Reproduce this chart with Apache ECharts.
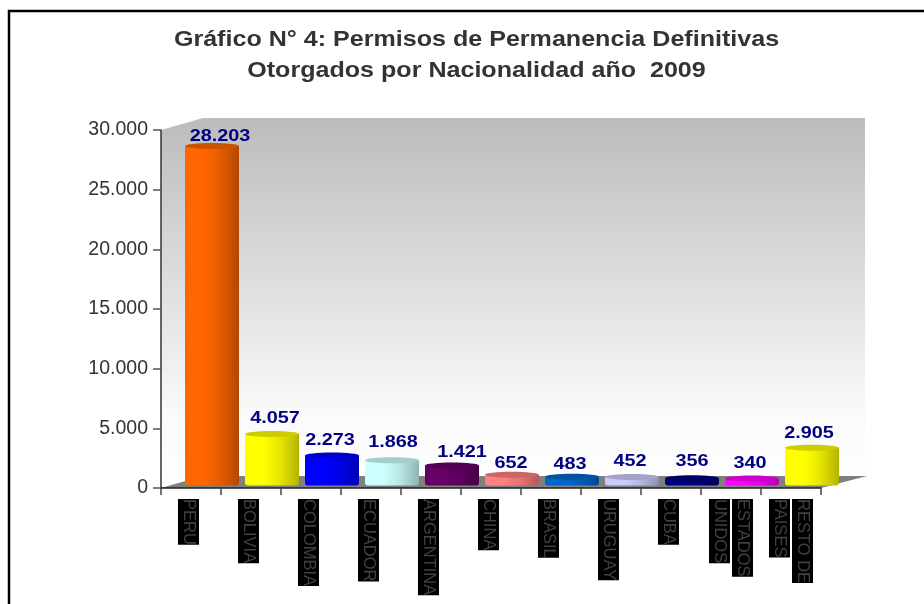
<!DOCTYPE html>
<html>
<head>
    <title>Permisos de Permanencia Definitivas</title>
    <meta charset="UTF-8">
    <script src="https://cdn.jsdelivr.net/npm/echarts@6/dist/echarts.min.js"></script>
    <style>
        html, body { margin: 0; padding: 0; background: #fff; }
        #chart { width: 924px; height: 604px; }
    </style>
</head>
<body>
    <div id="chart"></div>
    <script>
        var titleText = 'Gráfico N° 4: Permisos de Permanencia Definitivas\nOtorgados por Nacionalidad año  2009';
        var categories = ['PERU', 'BOLIVIA', 'COLOMBIA', 'ECUADOR', 'ARGENTINA', 'CHINA', 'BRASIL', 'URUGUAY', 'CUBA', 'ESTADOS\nUNIDOS', 'RESTO DE\nPAISES'];
        var values = [28203, 4057, 2273, 1868, 1421, 652, 483, 452, 356, 340, 2905];
        var valueLabels = ['28.203', '4.057', '2.273', '1.868', '1.421', '652', '483', '452', '356', '340', '2.905'];
        var yTicks = ['0', '5.000', '10.000', '15.000', '20.000', '25.000', '30.000'];
        var barColors = ['#ff6600', '#ffff00', '#0000ff', '#ccffff', '#660066', '#ff8080', '#0066cc', '#ccccff', '#000080', '#ff00ff', '#ffff00'];

        // pseudo 3D depth of the chart box, in px
        var depthX = 42, depthY = 12;
        var font = '"Liberation Sans", Arial, sans-serif';
        // the value labels do not sit quite centred on their bars
        var labelDx = [8, 3, -2, 1, 10, -1, -2, -2, 0, -2, -3];
        var labelDy = [-15, -21, -20, -23, -18, -17, -18, -21, -22, -20, -20];

        function darken(hex, k) {
            var n = parseInt(hex.slice(1), 16);
            var r = Math.round((n >> 16 & 255) * k), g = Math.round((n >> 8 & 255) * k), b = Math.round((n & 255) * k);
            return 'rgb(' + r + ',' + g + ',' + b + ')';
        }

        // back wall and floor
        function renderBox(params, api) {
            var c = params.coordSys;
            var l = c.x, r = c.x + c.width, t = c.y, b = c.y + c.height;
            return {
                type: 'group',
                children: [{
                    type: 'polygon',
                    shape: { points: [[l, t], [l + depthX, t - depthY], [r + 44, t - depthY], [r + 44, b - depthY], [l + depthX, b - depthY], [l, b]] },
                    style: {
                        fill: new echarts.graphic.LinearGradient(0, 0, 0, 1, [
                            { offset: 0, color: '#bcbcbc' }, { offset: 0.5, color: '#e2e2e2' },
                            { offset: 0.8, color: '#fafafa' }, { offset: 1, color: '#ffffff' }
                        ])
                    }
                }, {
                    type: 'polygon',
                    shape: { points: [[l, b], [l + depthX, b - depthY], [r + 46, b - depthY], [r, b]] },
                    style: { fill: '#808080' }
                }]
            };
        }

        // one cylinder per value, with its label
        function renderBar(params, api) {
            var i = api.value(0);
            var top = api.coord([i, api.value(1)]);
            var base = api.coord([i, 0]);
            var w = api.size([1, 0])[0] * 0.9;
            var x = top[0] + 21 - w / 2;
            var topY = top[1] - 5.5, bottomY = base[1] - 2.5;
            var col = barColors[i];
            var front = new echarts.graphic.LinearGradient(0, 0, 1, 0, [
                { offset: 0, color: col }, { offset: 0.35, color: col },
                { offset: 0.65, color: darken(col, 0.9) }, { offset: 1, color: darken(col, 0.7) }
            ]);
            return {
                type: 'group',
                children: [{
                    type: 'rect',
                    shape: { x: x, y: topY, width: w, height: bottomY - topY, r: [0, 0, 3, 3] },
                    style: { fill: front }
                }, {
                    type: 'ellipse',
                    shape: { cx: x + w / 2, cy: topY, rx: w / 2, ry: 3 },
                    style: { fill: darken(col, 0.8) }
                }, {
                    type: 'text',
                    x: x + w / 2 + labelDx[i],
                    y: top[1] + labelDy[i],
                    scaleX: 1.24,
                    style: {
                        text: valueLabels[i],
                        font: 'bold 16px ' + font,
                        fill: '#000080',
                        align: 'center',
                        verticalAlign: 'middle'
                    }
                }]
            };
        }

        var chart = echarts.init(document.getElementById('chart'), null, { renderer: 'canvas' });
        chart.setOption({
            animation: false,
            backgroundColor: '#fff',
            graphic: [{
                type: 'polyline',
                silent: true,
                shape: { points: [[9, 604], [9, 11], [924, 11]] },
                style: { stroke: '#000', lineWidth: 2.5, fill: null }
            }, {
                type: 'text',
                silent: true,
                x: 476.5,
                y: 24,
                scaleX: 1.14,
                style: {
                    text: titleText,
                    font: 'bold 22px ' + font,
                    lineHeight: 31,
                    fill: '#333333',
                    align: 'center',
                    verticalAlign: 'top'
                }
            }],
            grid: { left: 161, top: 130, width: 660, height: 358 },
            xAxis: {
                type: 'category',
                data: categories,
                axisLine: { lineStyle: { color: '#222', width: 1.5 } },
                axisTick: { show: true, length: 7, lineStyle: { color: '#444', width: 1.5 } },
                splitLine: { show: false },
                axisLabel: {
                    interval: 0,
                    rotate: -90,
                    margin: 11,
                    formatter: function (name) {
                        var lines = name.split('\n').map(function (s) { return '{b|' + s + '}'; });
                        // one-line labels sit a bit left of the category centre
                        return (lines.length === 1 ? '{gap| }\n' : '') + lines.join('\n');
                    },
                    rich: {
                        b: { backgroundColor: '#000', color: '#404040', fontFamily: font, fontSize: 16.5, height: 21, lineHeight: 23 },
                        gap: { fontSize: 1, height: 5, lineHeight: 5 }
                    }
                }
            },
            yAxis: {
                type: 'value',
                min: 0,
                max: 30000,
                interval: 5000,
                axisLine: { show: true, lineStyle: { color: '#333', width: 1.5 } },
                axisTick: { show: true, length: 8, lineStyle: { color: '#555', width: 1.5 } },
                splitLine: { show: false },
                axisLabel: {
                    margin: 13,
                    color: '#333',
                    fontFamily: font,
                    fontSize: 19.5,
                    formatter: function (v) { return yTicks[v / 5000]; }
                }
            },
            series: [{
                type: 'custom',
                z: 0,
                silent: true,
                data: [0],
                clip: false,
                renderItem: renderBox
            }, {
                type: 'custom',
                z: 1,
                silent: true,
                clip: false,
                encode: { x: 0, y: 1 },
                data: values.map(function (v, i) { return [i, v]; }),
                renderItem: renderBar
            }]
        });
    </script>
</body>
</html>
